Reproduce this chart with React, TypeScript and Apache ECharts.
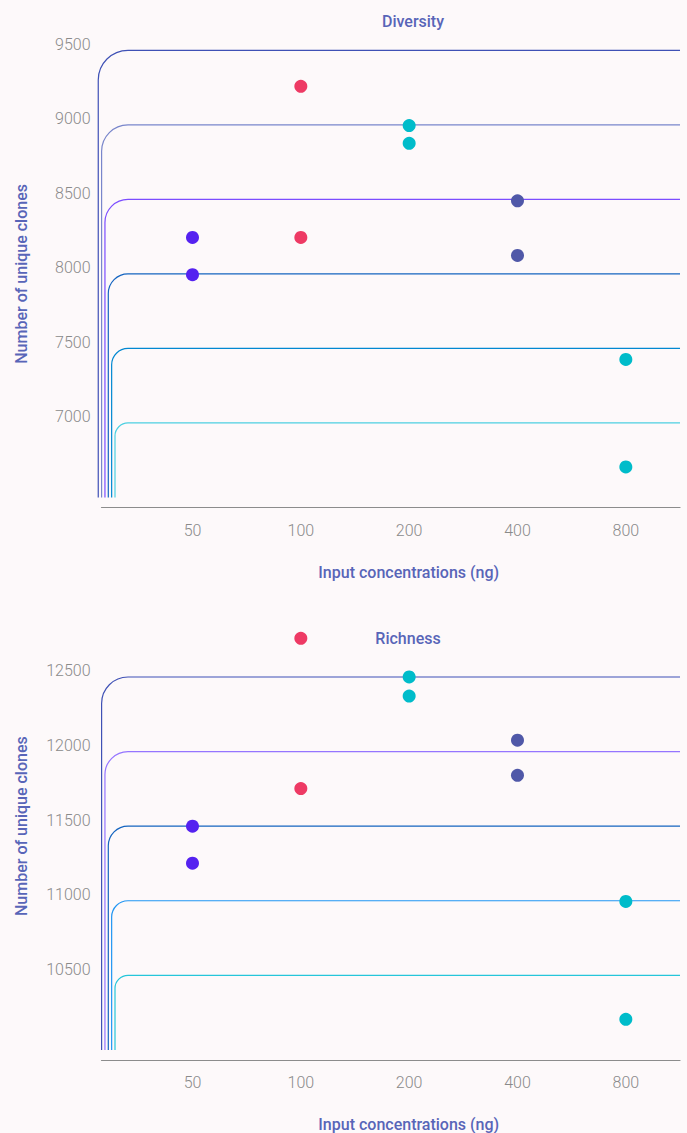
import React, { useEffect, useRef } from 'react';
import * as echarts from 'echarts';

// ---------------- data ----------------
const concentrations = ['50', '100', '200', '400', '800'];

// two replicate points per input concentration
const diversityRep1 = [8245, 9258, 8995, 8490, 7426];
const diversityRep2 = [7995, 8245, 8876, 8124, 6705];
const richnessRep1 = [11500, 12759, 12500, 12076, 10995];
const richnessRep2 = [11252, 11752, 12372, 11841, 10205];

const diversityTicks = [7000, 7500, 8000, 8500, 9000, 9500];
const richnessTicks = [10500, 11000, 11500, 12000, 12500];

// ---------------- styles ----------------
const BG = '#fdf9fa';
const pointColors = ['#5522f0', '#ee3a64', '#00bcca', '#5058a8', '#00bcca'];
const diversityLineColors = ['#4dd0e1', '#0288d1', '#1565c0', '#7c4dff', '#7986cb', '#3f51b5'];
const richnessLineColors = ['#26c6da', '#2196f3', '#1565c0', '#9575ff', '#3f51b5'];
const TITLE_COLOR = '#5865b8';
const LABEL_COLOR = '#8a8a8a';
const FONT = 'Roboto';
const X_MIN = -0.84;
const X_MAX = 4.5;

const tickLineSeries = (ticks: number[], colors: string[], idx: number) => ({
  type: 'custom',
  xAxisIndex: idx,
  yAxisIndex: idx,
  clip: false,
  silent: true,
  z: 1,
  data: ticks.map((t, i) => [i, t]),
  renderItem: (params: any, api: any) => {
    const cs = params.coordSys;
    const k = api.value(0) + 1;
    const y = api.coord([X_MIN, api.value(1)])[1];
    const bottom = cs.y + cs.height;
    const right = cs.x + cs.width;
    const x0 = cs.x + 16.85 - 3.35 * k;
    const hx = cs.x + 26.5;
    const r = hx - x0;
    const c = 0.5523 * r;
    const d =
      `M${x0},${bottom}L${x0},${y + r}` +
      `C${x0},${y + r - c} ${x0 + r - c},${y} ${x0 + r},${y}` +
      `L${right},${y}`;
    return {
      type: 'path',
      shape: { pathData: d },
      style: { stroke: colors[k - 1], lineWidth: 1.2, fill: 'none' },
    };
  },
});

const scatterSeries = (rep1: number[], rep2: number[], idx: number) => ({
  type: 'scatter',
  xAxisIndex: idx,
  yAxisIndex: idx,
  symbolSize: 13,
  z: 3,
  itemStyle: { opacity: 1 },
  data: concentrations.flatMap((_, i) => [
    { value: [i, rep1[i]], itemStyle: { color: pointColors[i], opacity: 1 } },
    { value: [i, rep2[i]], itemStyle: { color: pointColors[i], opacity: 1 } },
  ]),
});

const xAxisFor = (idx: number) => ({
  type: 'value',
  gridIndex: idx,
  min: X_MIN,
  max: X_MAX,
  offset: 10,
  axisLine: { show: true, onZero: false, lineStyle: { color: '#8c8c8c', width: 1.2 } },
  axisTick: { show: false },
  splitLine: { show: false },
  axisLabel: {
    customValues: [0, 1, 2, 3, 4],
    formatter: (v: number) => concentrations[Math.round(v)] ?? '',
    margin: 15,
    color: LABEL_COLOR,
    fontSize: 16,
    fontWeight: 300,
    fontFamily: FONT,
    lineHeight: 16,
  },
  name: 'Input concentrations (ng)',
  nameLocation: 'middle',
  nameGap: 57,
  nameTextStyle: {
    color: TITLE_COLOR,
    fontSize: 16,
    fontWeight: 500,
    fontFamily: FONT,
    lineHeight: 16,
    padding: [0, 0, 0, 36],
  },
});

const yAxisFor = (idx: number, min: number, max: number, showMax: boolean) => ({
  type: 'value',
  gridIndex: idx,
  min,
  max,
  interval: 500,
  axisLine: { show: false, onZero: false },
  axisTick: { show: false },
  splitLine: { show: false },
  axisLabel: {
    showMinLabel: false,
    showMaxLabel: showMax,
    formatter: (v: number) => String(v),
    margin: 11,
    verticalAlign: 'bottom',
    lineHeight: 12,
    color: LABEL_COLOR,
    fontSize: 16,
    fontWeight: 300,
    fontFamily: FONT,
  },
  name: 'Number of unique clones',
  nameLocation: 'middle',
  nameGap: 72,
  nameTextStyle: {
    color: TITLE_COLOR,
    fontSize: 16,
    fontWeight: 500,
    fontFamily: FONT,
    lineHeight: 16,
  },
});

export default function App() {
  const ref = useRef<HTMLDivElement>(null);

  useEffect(() => {
    document.body.style.margin = '0';
    document.body.style.background = BG;
    if (!ref.current) return;
    const chart = echarts.init(ref.current, undefined, { renderer: 'svg' });
    chart.setOption({
      animation: false,
      backgroundColor: BG,
      graphic: [
        {
          type: 'text',
          x: 413,
          y: 21.5,
          style: {
            text: 'Diversity',
            align: 'center',
            verticalAlign: 'middle',
            fontSize: 16,
            fontWeight: 500,
            fontFamily: FONT,
            fill: TITLE_COLOR,
          },
        },
        {
          type: 'text',
          x: 408,
          y: 638.3,
          style: {
            text: 'Richness',
            align: 'center',
            verticalAlign: 'middle',
            fontSize: 16,
            fontWeight: 500,
            fontFamily: FONT,
            fill: TITLE_COLOR,
          },
        },
      ],
      grid: [
        { left: 101.5, right: 7, top: 50.3, height: 447.2, outerBoundsMode: 'none', containLabel: false },
        { left: 101.5, right: 7, top: 602.4, height: 447.5, outerBoundsMode: 'none', containLabel: false },
      ],
      xAxis: [xAxisFor(0), xAxisFor(1)],
      yAxis: [yAxisFor(0, 6500, 9500, true), yAxisFor(1, 10000, 13000, false)],
      series: [
        tickLineSeries(diversityTicks, diversityLineColors, 0),
        tickLineSeries(richnessTicks, richnessLineColors, 1),
        scatterSeries(diversityRep1, diversityRep2, 0),
        scatterSeries(richnessRep1, richnessRep2, 1),
      ],
    });
    return () => chart.dispose();
  }, []);

  return <div ref={ref} style={{ width: 687, height: 1133 }} />;
}
